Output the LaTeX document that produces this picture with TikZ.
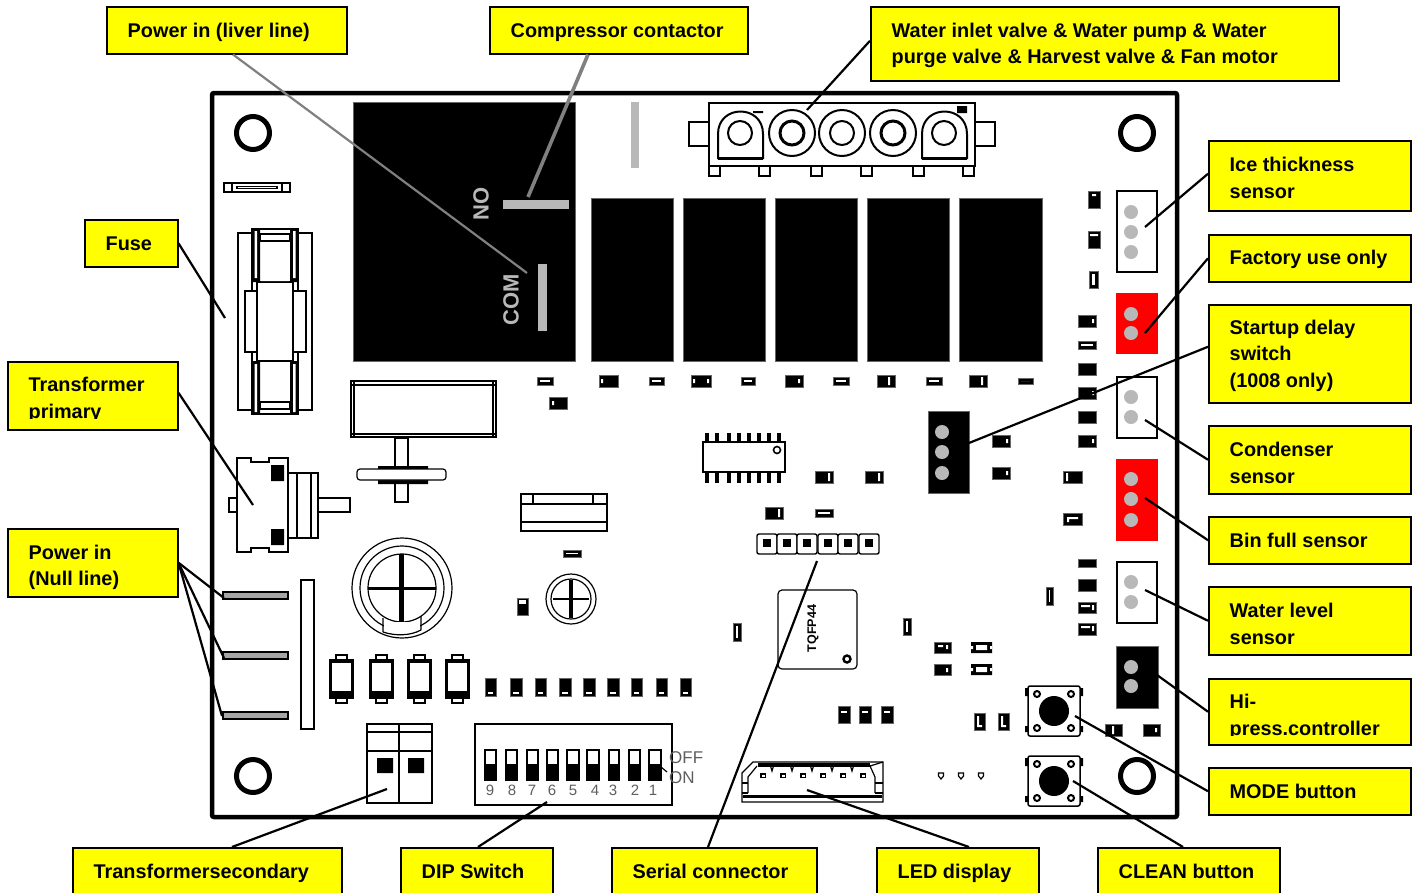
\documentclass[tikz,border=0pt]{standalone}
\usepackage{fontspec}
\setmainfont{Liberation Sans}
\usetikzlibrary{calc}
\definecolor{pingray}{HTML}{B8B8B8}
\definecolor{labyellow}{HTML}{FFFF00}
\definecolor{dipdigit}{HTML}{5E5E5E}
\tikzset{
  lbl/.style={draw=black,line width=1.5pt,fill=labyellow,rectangle,inner sep=0pt,anchor=north west},
  labtext/.style={align=left,anchor=west,inner sep=0pt,font=\fontsize{19.85}{26.3}\selectfont\bfseries,text=black},
  conn/.style={draw=black,line width=2.2pt},
  graybar/.style={fill=pingray,draw=none},
  part/.style={draw=black,line width=1.2pt,fill=white},
  ln/.style={draw=black,line width=1.2pt},
  blk/.style={fill=black,draw=black!60,line width=.5pt},
  hole/.style={draw=black,line width=5pt},
  relabel/.style={rotate=90,font=\fontsize{22}{22}\selectfont\bfseries,text=pingray,inner sep=0pt},
  digit/.style={font=\fontsize{15}{15}\selectfont,text=dipdigit,inner sep=0pt},
}
\newcommand{\lab}[7][2]{\node[lbl,minimum width=#5pt-#3pt,minimum height=#6pt-#4pt] (#2) at ($(#3,#4)+(-1,-1)$) {};
  \node[labtext] (#2-t) at ($(#2.west)+(21.5,#1)$) {#7};}
\newcommand{\smd}[4]{\fill[blk] (#1,#2) rectangle (#3,#4);}
\newcommand{\smdh}[4]{\fill[blk] (#1,#2) rectangle (#3,#4); \fill[white] ($(#1,#2)+(3,3)$) rectangle ($(#3,#4)+(-3,-3)$);}
\newcommand{\pinc}[2]{\fill[pingray] (#1,#2) circle[radius=7];}
\begin{document}
\begin{tikzpicture}[x=1pt,y=-1pt]
\useasboundingbox (0,0) rectangle (1422,892);
\fill[white] (0,0) rectangle (1422,892);
% board
\draw[black,line width=4.5pt,rounded corners=2pt] (212,93) rectangle (1177,817);
\foreach \a/\b in {253/133,1137/133,253/776,1137/776} \draw[hole] (\a,\b) circle[radius=16.5];
% big relay
\fill[blk] (353,102) rectangle (575,361);
\fill[graybar] (503,200) rectangle (569,209);
\fill[graybar] (538,264) rectangle (547,331);
\node[relabel] (nolab) at (481,204) {NO};
\node[relabel] (comlab) at (511,300) {COM};
\fill[graybar] (631,102) rectangle (639,168);
% small relays
\foreach \a/\b in {591/673,683/765,775/857,867/949,959/1042} \fill[blk] (\a,198) rectangle (\b,361);
% fuse
\draw[part] (224,183) rectangle (290,192);
\draw[ln] (232,183)--(232,192) (282,183)--(282,192);
\fill[black] (236,186) rectangle (278,189);
\fill[white] (238,187) rectangle (276,188);
\draw[part] (238,233) rectangle (312,410);
\draw[part] (252,229) rectangle (298,414);
\draw[part] (245,291) rectangle (306,352);
\draw[part] (257,282) rectangle (293,361);
\draw[ln] (257,361)--(253,365) (293,361)--(297,365) (257,282)--(253,278) (293,282)--(297,278);
\fill[black] (252,229) rectangle (260,282) (290,229) rectangle (298,282);
\fill[black] (252,361) rectangle (260,414) (290,361) rectangle (298,414);
\fill[white] (261,243) rectangle (289,281) (261,362) rectangle (289,400);
\fill[white] (254.5,231) rectangle (257,278) (293,231) rectangle (295.5,278);
\fill[white] (254.5,364) rectangle (257,412) (293,364) rectangle (295.5,412);
\draw[ln] (260,234) rectangle (290,241) (260,402) rectangle (290,409);
% transformer primary plug
\draw[part] (229,498) rectangle (237,512);
\draw[part] (318,498) rectangle (350,512);
\draw[part] (288,473) rectangle (318,538);
\draw[ln] (297,473)--(297,538) (311,473)--(311,538);
\draw[part] (237,458)--(251,458)--(251,462)--(269,462)--(269,458)--(288,458)--(288,552)--(269,552)--(269,548)--(251,548)--(251,552)--(237,552)--cycle;
\fill[black] (271,465) rectangle (284,481) (271,529) rectangle (284,545);
% null blades
\foreach \b in {592,652,712} \draw[draw=black,line width=1.1pt,fill=pingray!90!black] (223,\b) rectangle (288,\b+7);
\draw[part] (301,580) rectangle (314,729);
% upper box with stem
\draw[part] (351,381) rectangle (496,437);
\draw[ln] (354,381)--(354,437) (493,381)--(493,437) (351,385)--(496,385) (351,434)--(496,434);
\draw[part] (395,438) rectangle (408,502);
\fill[black] (378,466) rectangle (428,470) (378,480) rectangle (428,484);
\draw[part,rounded corners=3pt] (357,469) rectangle (446,480);
% flat box
\draw[part] (521,494) rectangle (607,531);
\draw[ln] (521,504)--(607,504) (521,522)--(607,522) (533,494)--(533,504) (593,494)--(593,504);
% capacitor
\draw[ln] (402,588) circle[radius=50] (402,588) circle[radius=42] (402,588) circle[radius=34];
\fill[black] (399,554) rectangle (404,622);
\fill[black] (368,587) rectangle (436,589.5);
\fill[white] (384,622) rectangle (420,631);
\draw[ln] (383,618)--(383,632) (421,616)--(421,630) (383,632)..controls (395,636) and (410,636)..(421,630);
\smdh{563}{550}{581}{557}
\smd{517}{598}{528}{615}
\fill[white] (519,600) rectangle (526,604);
% small pot
\draw[ln] (571,599) circle[radius=25] (571,599) circle[radius=20];
\fill[black] (569,580) rectangle (573,618);
\fill[black] (553,598) rectangle (589,600);
% diodes
\foreach \a in {329,369,407,445}{
  \draw[ln] (\a+7,655) rectangle (\a+18,703);
  \fill[black] (\a,659) rectangle (\a+25,699);
  \fill[white] (\a+3,663) rectangle (\a+22,691);
}
% smd row
\foreach \a/\b in {485/496,510/522,535/546,559/571,583/595,607/619,631/642,656/667,680/691}{
  \smd{\a}{678}{\b}{696}
  \fill[white] (\a+3,692) rectangle (\b-3,694);
}
% terminal
\draw[part] (367,724) rectangle (432,803);
\draw[ln] (399,724)--(399,803) (367,732)--(432,732) (367,751)--(432,751);
\fill[black] (377,758) rectangle (393,773) (408,758) rectangle (424,773);
% DIP
\draw[part] (475,724) rectangle (672,805);
\foreach \a/\b/\c in {485/496/490,506/517/512,527/538/532,547/558/552,567/579/573,587/599/595,609/619/613,629/640/635,649/661/653}{
  \draw[part] (\a,750) rectangle (\b,780);
  \fill[black] (\a,764) rectangle (\b,780);
}
\foreach \c/\d in {490/9,512/8,532/7,552/6,573/5,595/4,613/3,635/2,653/1} \node[digit] (dd\d) at (\c,790) {\d};
\draw[black,line width=1.2pt] (661,767)--(667,772);
\node[digit,anchor=west,font=\fontsize{17}{17}\selectfont] (offlab) at (669,758) {OFF};
\node[digit,anchor=west,font=\fontsize{17}{17}\selectfont] (onlab) at (669,778) {ON};
% big 5-way connector
\draw[part] (689,122) rectangle (709,146) (975,122) rectangle (995,146);
\foreach \a in {709,759,811,861,913,963} \draw[part] (\a,166) rectangle (\a+11,176);
\draw[part] (709,103) rectangle (975,166);
\foreach \a in {718,922}{
  \draw[black,line width=2pt,fill=white] (\a,158)--(\a,134)..controls (\a,104) and (\a+45,104)..(\a+45,134)--(\a+45,158)--cycle;
  \draw[black,line width=3pt] (\a,158)--(\a+45,158);
  \draw[black,line width=2pt] (\a+22,133) circle[radius=12];
}
\foreach \a/\w in {792/3,842/2,893/3}{
  \draw[black,line width=2pt] (\a,133) circle[radius=23];
  \draw[black,line width=\w pt] (\a,133) circle[radius=12];
}
\fill[black] (753,111) rectangle (763,113) (957,106) rectangle (967,113);
% sockets
\draw[part,line width=1.4pt] (1117,191) rectangle (1157,272);
\foreach \b in {212,232,252} \pinc{1131}{\b}
\fill[red] (1116,293) rectangle (1158,354);
\foreach \b in {314,333} \pinc{1131}{\b}
\draw[part,line width=1.4pt] (1117,377) rectangle (1157,438);
\foreach \b in {397,417} \pinc{1131}{\b}
\fill[red] (1116,459) rectangle (1158,541);
\foreach \b in {479,499,520} \pinc{1131}{\b}
\draw[part,line width=1.4pt] (1117,562) rectangle (1157,623);
\foreach \b in {582,602} \pinc{1131}{\b}
\fill[blk] (1116,646) rectangle (1158,708);
\foreach \b in {667,686} \pinc{1131}{\b}
\fill[blk] (928,411) rectangle (969,493);
\foreach \b in {432,452,473} \pinc{942}{\b}
% smds, right
\smd{1088}{191}{1100}{208} \smd{1088}{231}{1100}{248} \smdh{1089}{271}{1098}{288}
\fill[white] (1092,194) rectangle (1096,196) (1090,234) rectangle (1098,236);
\smd{1078}{315}{1096}{327} \smdh{1078}{341}{1096}{349} \smd{1078}{363}{1096}{375}
\smd{1078}{387}{1096}{399} \smd{1078}{411}{1096}{423} \smd{1078}{435}{1096}{447}
\fill[white] (1092,319) rectangle (1094,323) (1092,391) rectangle (1094,395) (1092,439) rectangle (1094,443);
\smd{992}{435}{1010}{447} \smd{992}{467}{1010}{479} \smd{1063}{471}{1082}{483}
\fill[white] (1006,439) rectangle (1008,443) (1006,471) rectangle (1008,475) (1066,473) rectangle (1068,481);
\smd{1063}{513}{1082}{525}
\fill[white] (1067,517) rectangle (1078,519) (1067,517) rectangle (1069,522);
\smd{815}{471}{833}{483} \smd{865}{471}{883}{483} \smd{765}{507}{783}{519}
\smdh{815}{509}{833}{517}
\fill[white] (828,473) rectangle (830,481) (878,473) rectangle (880,481) (778,509) rectangle (780,517);
\smd{1078}{559}{1096}{567} \smd{1078}{579}{1096}{591} \smd{1078}{602}{1096}{613} \smd{1078}{623}{1096}{635}
\fill[white] (1081,605) rectangle (1090,607) (1081,626) rectangle (1090,628) (1092,605) rectangle (1094,610) (1092,626) rectangle (1094,631);
\smdh{1046}{587}{1053}{605} \smdh{903}{618}{911}{635} \smdh{733}{623}{741}{641}
% smds, row under relays
\smdh{537}{377}{553}{385} \smd{599}{375}{618}{387} \smdh{649}{377}{664}{385}
\smd{691}{375}{711}{387} \smdh{741}{377}{755}{385} \smd{785}{375}{803}{387}
\smdh{833}{377}{849}{385} \smd{877}{375}{895}{387} \smdh{926}{377}{942}{385}
\smd{969}{375}{987}{387} \smdh{1018}{378}{1033}{384} \smd{549}{397}{567}{409}
\fill[white] (888,377) rectangle (890,385) (981,377) rectangle (983,385) (601,379) rectangle (603,383)
  (693,379) rectangle (695,383) (707,379) rectangle (709,383) (798,379) rectangle (800,383) (552,401) rectangle (554,405);
% IC
\foreach \a in {707,717,729,739,749,759,769,779}{
  \fill[black] (\a-2,433) rectangle (\a+2,442);
  \fill[black] (\a-2,472) rectangle (\a+2,483);
}
\draw[part,line width=1.4pt] (703,442) rectangle (785,472);
\draw[black,line width=1.6pt] (777,450) circle[radius=3.5];
% pin header
\foreach \a in {767,787,807,828,848,869}{
  \draw[part,rounded corners=2pt,line width=1.4pt] (\a-10,534) rectangle (\a+10,554);
  \fill[black] (\a-4,539) rectangle (\a+4,547);
}
% TQFP
\draw[part,rounded corners=4pt] (778,590) rectangle (857,669);
\node[rotate=90,inner sep=0pt,font=\fontsize{12.5}{12.5}\selectfont\bfseries] (tqfp) at (813,628.5) {TQFP44};
\draw[black,line width=2.4pt] (847,659) circle[radius=3.5];
% bottom right smds
\smd{934}{642}{951}{653} \smd{934}{664}{951}{675}
\fill[white] (938,645) rectangle (943,647) (946,645) rectangle (948,649) (946,668) rectangle (948,672);
\fill[black] (971,642) rectangle (992,653) (971,664) rectangle (992,675);
\fill[white] (976,645) rectangle (987,650) (976,667) rectangle (987,672);
\fill[white] (971,646) rectangle (973,649) (990,646) rectangle (992,649) (971,668) rectangle (973,671) (990,668) rectangle (992,671);
\foreach \a in {838,859,881}{\smd{\a}{706}{\a+12}{723} \fill[white] (\a+3,711) rectangle (\a+9,713);}
\foreach \a in {974,998}{\smd{\a}{713}{\a+11}{730} \fill[white] (\a+3,716) rectangle (\a+5,727) (\a+3,725) rectangle (\a+8,727);}
\smd{1105}{724}{1122}{736} \smd{1143}{724}{1160}{736}
\fill[white] (1112,726) rectangle (1114,734) (1155,728) rectangle (1157,732);
% buttons
\foreach \b in {711,781}{
  \fill[black] (1025,\b-23) rectangle (1029,\b-15) (1025,\b+15) rectangle (1029,\b+21);
  \fill[black] (1079,\b-23) rectangle (1083,\b-15) (1079,\b+15) rectangle (1083,\b+21);
  \draw[part,rounded corners=2pt,line width=1.5pt] (1028,\b-25) rectangle (1080,\b+25);
  \fill[black] (1054,\b) circle[radius=15];
  \foreach \p/\q in {-17/-17,17/-17,-17/17,17/17} \draw[black,line width=2pt] (1054+\p,\b+\q) circle[radius=3];
}
% LED connector
\draw[part] (742,773)--(753,762)--(883,762)--(883,802)--(742,802)--cycle;
\fill[black] (758,763) rectangle (870,766.5);
\draw[ln] (757,766)--(748,777)--(748,793) (870,766)--(875,777)--(875,793) (870,766)--(883,762);
\draw[ln] (742,783)--(748,783) (742,793)--(748,793) (875,783)--(883,783) (875,793)--(883,793);
\fill[black] (743,795) rectangle (882,798);
\foreach \a in {763,783,803,823,843,863} {\fill[black] (\a-3,773) rectangle (\a+3,778); \fill[white] (\a-1.5,775) rectangle (\a+1.5,776.5);}
\foreach \a in {772,792,812,832,852} {\draw[ln] (\a-1.5,766)--(\a,771)--(\a+1.5,766);}
\foreach \a in {941,961,981} \draw[ln] (\a-2.5,773)--(\a+2.5,773)--(\a+2.5,776)--(\a,779)--(\a-2.5,776)--cycle;
% labels
\lab{pl}{107}{7}{347}{54}{Power in (liver line)}
\lab{cc}{490}{7}{748}{54}{Compressor contactor}
\lab[1.5]{wv}{871}{7}{1339}{81}{Water inlet valve \& Water pump \& Water\\purge valve \& Harvest valve \& Fan motor}
\lab{ice}{1209}{141}{1411}{211}{Ice thickness\\sensor}
\lab[1]{fac}{1209}{235}{1411}{282}{Factory use only}
\lab{sta}{1209}{305}{1411}{403}{Startup delay\\switch\\(1008 only)}
\lab[3]{con}{1209}{426}{1411}{494}{Condenser\\sensor}
\lab[0]{bin}{1209}{517}{1411}{564}{Bin full sensor}
\lab[3]{wl}{1209}{587}{1411}{655}{Water level\\sensor}
\lab[5]{hip}{1209}{679}{1411}{745}{Hi-\\press.controller}
\fill[labyellow] (1209.5,736) rectangle (1408.5,742.5);
\lab[0]{mod}{1209}{768}{1411}{815}{MODE button}
\lab[0]{cln}{1098}{848}{1280}{896}{CLEAN button}
\lab[2]{led}{877}{848}{1039}{896}{LED display}
\lab[0]{ser}{612}{848}{817}{896}{Serial connector}
\lab[0]{dip}{401}{848}{553}{896}{DIP Switch}
\lab[2]{tsc}{73}{848}{342}{896}{Transformersecondary}
\lab[1]{fus}{85}{220}{178}{267}{Fuse}
\lab[4]{tpr}{8}{362}{178}{430}{Transformer\\primary}
\fill[labyellow] (8.5,419) rectangle (175.5,427.5);
\lab[4.5]{nul}{8}{529}{178}{597}{Power in\\(Null line)}
% connector ends
\coordinate (e-pl) at (527,273); \coordinate (e-cc) at (528,197);
\coordinate (e-wv) at (807,110); \coordinate (e-ice) at (1145,227);
\coordinate (e-fac) at (1145,333); \coordinate (e-sta) at (969,443);
\coordinate (e-con) at (1145,420); \coordinate (e-bin) at (1145,498);
\coordinate (e-wl) at (1145,590); \coordinate (e-hip) at (1157,675);
\coordinate (e-mod) at (1075,716); \coordinate (e-cln) at (1073,781);
\coordinate (e-led) at (807,790); \coordinate (e-ser) at (817,561);
\coordinate (e-dip) at (547,802); \coordinate (e-tsc) at (387,789);
\coordinate (e-fus) at (225,318); \coordinate (e-tpr) at (253,505);
\coordinate (e-n1) at (224,598); \coordinate (e-n2) at (224,658); \coordinate (e-n3) at (222,716);
% connectors
\draw[draw=black!50,line width=2.2pt] ($(pl.south west)+(127,0)$) -- (e-pl);
\draw[draw=black!50,line width=3.6pt] ($(cc.south west)+(99,0)$) -- (e-cc);
\draw[conn] ($(wv.west)+(0,-3)$) -- (e-wv);
\draw[conn] ($(ice.west)+(0,-2)$) -- (e-ice);
\draw[conn] (fac.west) -- (e-fac);
\draw[conn] ($(sta.west)+(0,-7)$) -- (e-sta);
\draw[conn] (con.west) -- (e-con);
\draw[conn] (bin.west) -- (e-bin);
\draw[conn] (wl.west) -- (e-wl);
\draw[conn] (hip.west) -- (e-hip);
\draw[conn] (mod.west) -- (e-mod);
\draw[conn] ($(cln.north west)+(86,0)$) -- (e-cln);
\draw[conn] ($(led.north west)+(93,0)$) -- (e-led);
\draw[conn] ($(ser.north west)+(97,0)$) -- (e-ser);
\draw[conn] ($(dip.north west)+(78,0)$) -- (e-dip);
\draw[conn] ($(tsc.north west)+(160,0)$) -- (e-tsc);
\draw[conn] (fus.east) -- (e-fus);
\draw[conn] ($(tpr.east)+(0,-3)$) -- (e-tpr);
\draw[conn] (nul.east) -- (e-n1);
\draw[conn] (nul.east) -- (e-n2);
\draw[conn] (nul.east) -- (e-n3);
\end{tikzpicture}
\end{document}
